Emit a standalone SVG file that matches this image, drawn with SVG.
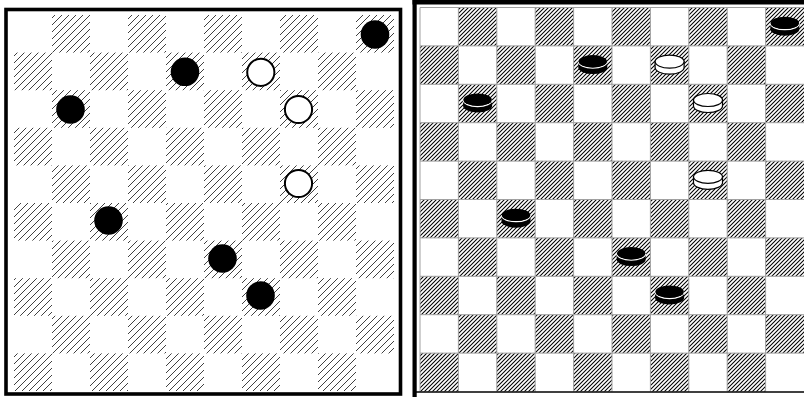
<svg xmlns="http://www.w3.org/2000/svg" xmlns:xlink="http://www.w3.org/1999/xlink" width="804" height="397" viewBox="0 0 804 397">
<defs>
<pattern id="hatchL" patternUnits="userSpaceOnUse" x="0" y="0" width="7" height="7">
<path d="M0,7 L7,0 M-1,1 L1,-1 M6,8 L8,6" stroke="#2a2a2a" stroke-width="0.9" fill="none"/>
</pattern>
<pattern id="hatchR" patternUnits="userSpaceOnUse" x="0" y="0" width="4" height="4">
<path d="M0,4 L4,0 M-1,1 L1,-1 M3,5 L5,3" stroke="#000" stroke-width="1.05" fill="none"/>
</pattern>
<g id="blackDisk">
<path d="M-14.5,-3.5 L-14.5,2.5 A14.5,6.5 0 0 0 14.5,2.5 L14.5,-3.5 Z" fill="#000"/>
<path d="M-14.5,-3.5 A14.5,6.5 0 0 0 14.5,-3.5" fill="none" stroke="#fff" stroke-width="1.3"/>
<ellipse cx="0" cy="-3.8" rx="14.2" ry="6.2" fill="#000"/>
</g>
<g id="whiteDisk">
<path d="M-14.5,-3.5 L-14.5,2.5 A14.5,6.5 0 0 0 14.5,2.5 L14.5,-3.5 Z" fill="#fff" stroke="#000" stroke-width="1.2"/>
<ellipse cx="0" cy="-3.5" rx="14.5" ry="6.5" fill="#fff" stroke="#000" stroke-width="1.2"/>
</g>
</defs>
<style>
.hl{fill:url(#hatchL)}
.hr{fill:url(#hatchR)}
.bp{fill:#000}
.wp{fill:#fff;stroke:#000;stroke-width:2}
</style>

<g id="left-board">
<rect x="6" y="9.5" width="394.5" height="384.5" fill="#fff" stroke="#000" stroke-width="3.6"/>
<g class="hl">
<rect x="52" y="15" width="38" height="37.6"/><rect x="128" y="15" width="38" height="37.6"/><rect x="204" y="15" width="38" height="37.6"/><rect x="280" y="15" width="38" height="37.6"/><rect x="356" y="15" width="38" height="37.6"/>
<rect x="14" y="52.6" width="38" height="37.6"/><rect x="90" y="52.6" width="38" height="37.6"/><rect x="166" y="52.6" width="38" height="37.6"/><rect x="242" y="52.6" width="38" height="37.6"/><rect x="318" y="52.6" width="38" height="37.6"/>
<rect x="52" y="90.2" width="38" height="37.6"/><rect x="128" y="90.2" width="38" height="37.6"/><rect x="204" y="90.2" width="38" height="37.6"/><rect x="280" y="90.2" width="38" height="37.6"/><rect x="356" y="90.2" width="38" height="37.6"/>
<rect x="14" y="127.8" width="38" height="37.6"/><rect x="90" y="127.8" width="38" height="37.6"/><rect x="166" y="127.8" width="38" height="37.6"/><rect x="242" y="127.8" width="38" height="37.6"/><rect x="318" y="127.8" width="38" height="37.6"/>
<rect x="52" y="165.4" width="38" height="37.6"/><rect x="128" y="165.4" width="38" height="37.6"/><rect x="204" y="165.4" width="38" height="37.6"/><rect x="280" y="165.4" width="38" height="37.6"/><rect x="356" y="165.4" width="38" height="37.6"/>
<rect x="14" y="203" width="38" height="37.6"/><rect x="90" y="203" width="38" height="37.6"/><rect x="166" y="203" width="38" height="37.6"/><rect x="242" y="203" width="38" height="37.6"/><rect x="318" y="203" width="38" height="37.6"/>
<rect x="52" y="240.6" width="38" height="37.6"/><rect x="128" y="240.6" width="38" height="37.6"/><rect x="204" y="240.6" width="38" height="37.6"/><rect x="280" y="240.6" width="38" height="37.6"/><rect x="356" y="240.6" width="38" height="37.6"/>
<rect x="14" y="278.2" width="38" height="37.6"/><rect x="90" y="278.2" width="38" height="37.6"/><rect x="166" y="278.2" width="38" height="37.6"/><rect x="242" y="278.2" width="38" height="37.6"/><rect x="318" y="278.2" width="38" height="37.6"/>
<rect x="52" y="315.8" width="38" height="37.6"/><rect x="128" y="315.8" width="38" height="37.6"/><rect x="204" y="315.8" width="38" height="37.6"/><rect x="280" y="315.8" width="38" height="37.6"/><rect x="356" y="315.8" width="38" height="37.6"/>
<rect x="14" y="353.4" width="38" height="37.6"/><rect x="90" y="353.4" width="38" height="37.6"/><rect x="166" y="353.4" width="38" height="37.6"/><rect x="242" y="353.4" width="38" height="37.6"/><rect x="318" y="353.4" width="38" height="37.6"/>
</g>
</g>

<g id="left-pieces">
<g id="L-black-r0c9"><circle class="bp" cx="375" cy="34.5" r="14.3"/></g>
<g id="L-black-r1c4"><circle class="bp" cx="185" cy="71.8" r="14.3"/></g>
<g id="L-black-r2c1"><circle class="bp" cx="70.5" cy="109.5" r="14.3"/></g>
<g id="L-black-r5c2"><circle class="bp" cx="108.5" cy="220.5" r="14.3"/></g>
<g id="L-black-r6c5"><circle class="bp" cx="222.5" cy="258.5" r="14.3"/></g>
<g id="L-black-r7c6"><circle class="bp" cx="260.5" cy="295.5" r="14.3"/></g>
<g id="L-white-r1c6"><circle class="wp" cx="260.8" cy="72.3" r="13.6"/></g>
<g id="L-white-r2c7"><circle class="wp" cx="298.5" cy="109.5" r="13.6"/></g>
<g id="L-white-r4c7"><circle class="wp" cx="298.5" cy="183.5" r="13.6"/></g>
</g>

<g id="right-board">
<rect x="420" y="7.5" width="384" height="384" fill="#fff"/>
<g class="hr">
<rect x="458.4" y="7.5" width="38.4" height="38.4"/><rect x="535.2" y="7.5" width="38.4" height="38.4"/><rect x="612" y="7.5" width="38.4" height="38.4"/><rect x="688.8" y="7.5" width="38.4" height="38.4"/><rect x="765.6" y="7.5" width="38.4" height="38.4"/>
<rect x="420" y="45.9" width="38.4" height="38.4"/><rect x="496.8" y="45.9" width="38.4" height="38.4"/><rect x="573.6" y="45.9" width="38.4" height="38.4"/><rect x="650.4" y="45.9" width="38.4" height="38.4"/><rect x="727.2" y="45.9" width="38.4" height="38.4"/>
<rect x="458.4" y="84.3" width="38.4" height="38.4"/><rect x="535.2" y="84.3" width="38.4" height="38.4"/><rect x="612" y="84.3" width="38.4" height="38.4"/><rect x="688.8" y="84.3" width="38.4" height="38.4"/><rect x="765.6" y="84.3" width="38.4" height="38.4"/>
<rect x="420" y="122.7" width="38.4" height="38.4"/><rect x="496.8" y="122.7" width="38.4" height="38.4"/><rect x="573.6" y="122.7" width="38.4" height="38.4"/><rect x="650.4" y="122.7" width="38.4" height="38.4"/><rect x="727.2" y="122.7" width="38.4" height="38.4"/>
<rect x="458.4" y="161.1" width="38.4" height="38.4"/><rect x="535.2" y="161.1" width="38.4" height="38.4"/><rect x="612" y="161.1" width="38.4" height="38.4"/><rect x="688.8" y="161.1" width="38.4" height="38.4"/><rect x="765.6" y="161.1" width="38.4" height="38.4"/>
<rect x="420" y="199.5" width="38.4" height="38.4"/><rect x="496.8" y="199.5" width="38.4" height="38.4"/><rect x="573.6" y="199.5" width="38.4" height="38.4"/><rect x="650.4" y="199.5" width="38.4" height="38.4"/><rect x="727.2" y="199.5" width="38.4" height="38.4"/>
<rect x="458.4" y="237.9" width="38.4" height="38.4"/><rect x="535.2" y="237.9" width="38.4" height="38.4"/><rect x="612" y="237.9" width="38.4" height="38.4"/><rect x="688.8" y="237.9" width="38.4" height="38.4"/><rect x="765.6" y="237.9" width="38.4" height="38.4"/>
<rect x="420" y="276.3" width="38.4" height="38.4"/><rect x="496.8" y="276.3" width="38.4" height="38.4"/><rect x="573.6" y="276.3" width="38.4" height="38.4"/><rect x="650.4" y="276.3" width="38.4" height="38.4"/><rect x="727.2" y="276.3" width="38.4" height="38.4"/>
<rect x="458.4" y="314.7" width="38.4" height="38.4"/><rect x="535.2" y="314.7" width="38.4" height="38.4"/><rect x="612" y="314.7" width="38.4" height="38.4"/><rect x="688.8" y="314.7" width="38.4" height="38.4"/><rect x="765.6" y="314.7" width="38.4" height="38.4"/>
<rect x="420" y="353.1" width="38.4" height="38.4"/><rect x="496.8" y="353.1" width="38.4" height="38.4"/><rect x="573.6" y="353.1" width="38.4" height="38.4"/><rect x="650.4" y="353.1" width="38.4" height="38.4"/><rect x="727.2" y="353.1" width="38.4" height="38.4"/>
</g>
<path fill="none" stroke="#a0a0a0" stroke-width="1" d="M420,7.5V391.5M458.4,7.5V391.5M496.8,7.5V391.5M535.2,7.5V391.5M573.6,7.5V391.5M612,7.5V391.5M650.4,7.5V391.5M688.8,7.5V391.5M727.2,7.5V391.5M765.6,7.5V391.5M420,7.5H804M420,45.9H804M420,84.3H804M420,122.7H804M420,161.1H804M420,199.5H804M420,237.9H804M420,276.3H804M420,314.7H804M420,353.1H804"/>
<rect x="412.5" y="0" width="4.2" height="397" fill="#000"/>
<rect x="412.5" y="0" width="391.5" height="4.5" fill="#000"/>
<line x1="416" y1="392" x2="804" y2="392" stroke="#000" stroke-width="1.5"/>
</g>

<g id="right-pieces">
<g id="R-black-r0c9"><use href="#blackDisk" x="784.8" y="26.7"/></g>
<g id="R-black-r1c4"><use href="#blackDisk" x="592.8" y="65.1"/></g>
<g id="R-black-r2c1"><use href="#blackDisk" x="477.6" y="103.5"/></g>
<g id="R-black-r5c2"><use href="#blackDisk" x="516" y="218.7"/></g>
<g id="R-black-r6c5"><use href="#blackDisk" x="631.2" y="257.1"/></g>
<g id="R-black-r7c6"><use href="#blackDisk" x="669.6" y="295.5"/></g>
<g id="R-white-r1c6"><use href="#whiteDisk" x="669.6" y="65.1"/></g>
<g id="R-white-r2c7"><use href="#whiteDisk" x="708" y="103.5"/></g>
<g id="R-white-r4c7"><use href="#whiteDisk" x="708" y="180.3"/></g>
</g>
</svg>
